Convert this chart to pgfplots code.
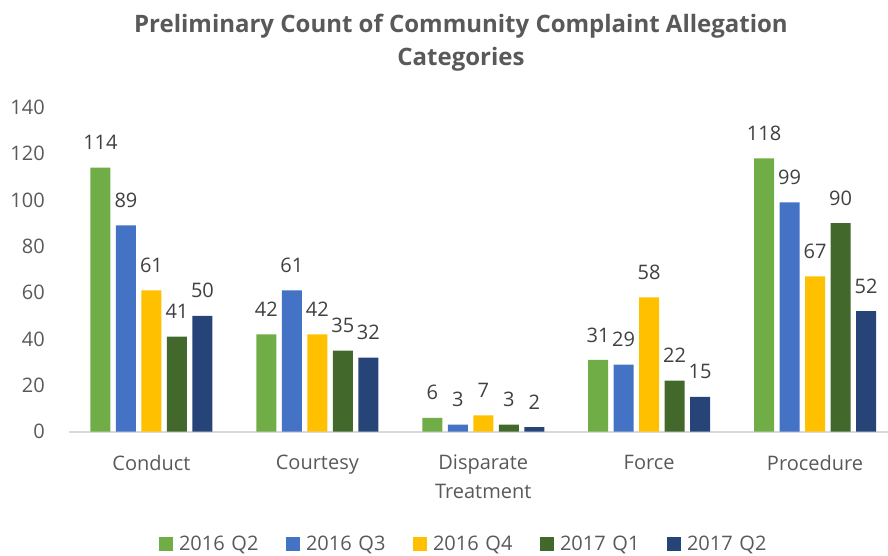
\documentclass[border=0pt]{standalone}
\usepackage{fontspec}
\setmainfont{Open Sans}
\usepackage{pgfplots}
\pgfplotsset{compat=1.18}
\definecolor{cA}{HTML}{70AD47}
\definecolor{cB}{HTML}{4472C4}
\definecolor{cC}{HTML}{FFC000}
\definecolor{cD}{HTML}{43682B}
\definecolor{cE}{HTML}{264478}
\definecolor{txt}{HTML}{595959}
\definecolor{lbl}{HTML}{404040}
\definecolor{axl}{HTML}{D9D9D9}
\begin{document}
\begin{tikzpicture}
\path[use as bounding box] (0,0) rectangle (888bp,556bp);
\node[font=\fontsize{24bp}{33.5bp}\selectfont\bfseries, text=txt, align=center, inner sep=0pt] at (461bp,513.5bp)
  {Preliminary Count of Community Complaint Allegation\\Categories};
\begin{axis}[
  at={(68.5bp,124.3bp)}, anchor=south west,
  scale only axis, width=829.5bp, height=324.4bp,
  ymin=0, ymax=140, ytick={0,20,...,140},
  xmin=-0.5, xmax=4.5, xtick={0,1,2,3,4},
  xticklabels={Conduct,Courtesy,{Disparate\\Treatment},Force,Procedure},
  /pgf/number format/assume math mode=true,
  axis y line*=left,
  y axis line style={draw=none},
  axis x line*=bottom,
  x axis line style={-, draw=axl, line width=2bp},
  major tick length=0pt,
  ytick style={draw=none}, xtick style={draw=none},
  yticklabel style={font=\fontsize{20bp}{24bp}\selectfont, text=txt, inner sep=0pt, anchor=east, xshift=-23.5bp},
  xticklabel style={font=\fontsize{20bp}{29bp}\selectfont, text=txt, inner sep=0pt, anchor=north, align=center, yshift=-23bp},
  ybar=5.5bp, bar width=20bp,
  nodes near coords,
  nodes near coords style={font=\fontsize{20bp}{24bp}\selectfont, text=lbl, anchor=center, yshift=25bp, inner sep=0pt},
  legend columns=5,
  legend style={draw=none, fill=none, inner sep=0pt, at={(0.4756,0)}, anchor=center, yshift=-112.5bp,
    font=\fontsize{20bp}{24bp}\selectfont, text=txt, column sep=6bp,
    nodes={inner sep=0pt, text width=80bp, align=left},
    /tikz/every even column/.append style={column sep=27bp}},
  legend image code/.code={\fill[#1] (0bp,-7bp) rectangle (14bp,7bp);},
]
\addplot[fill=cA, draw=none] coordinates {(0,114) (1,42) (2,6) (3,31) (4,118)};
\addplot[fill=cB, draw=none] coordinates {(0,89) (1,61) (2,3) (3,29) (4,99)};
\addplot[fill=cC, draw=none] coordinates {(0,61) (1,42) (2,7) (3,58) (4,67)};
\addplot[fill=cD, draw=none] coordinates {(0,41) (1,35) (2,3) (3,22) (4,90)};
\addplot[fill=cE, draw=none] coordinates {(0,50) (1,32) (2,2) (3,15) (4,52)};
\legend{2016 Q2,2016 Q3,2016 Q4,2017 Q1,2017 Q2}
\end{axis}
\end{tikzpicture}
\end{document}
